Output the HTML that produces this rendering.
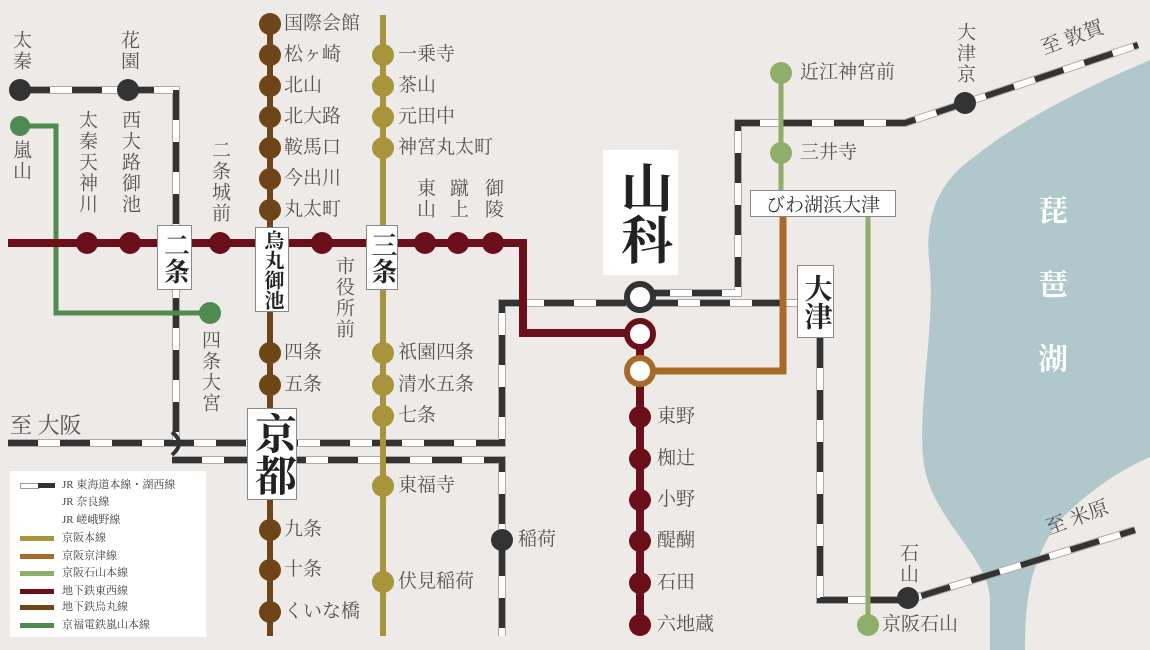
<!DOCTYPE html>
<html><head><meta charset="utf-8">
<style>
body{margin:0;}
#m{position:relative;width:1150px;height:650px;background:#eeeae7;overflow:hidden;font-family:"Liberation Serif","Noto Serif CJK SC",serif;color:#555;}
svg{position:absolute;left:0;top:0;}
.l{position:absolute;font-size:19px;line-height:20px;white-space:nowrap;}
.v{position:absolute;font-size:19px;line-height:20px;writing-mode:vertical-rl;letter-spacing:2px;}
.b{position:absolute;background:#fff;border:1px solid #888;box-sizing:border-box;color:#222;font-weight:bold;writing-mode:vertical-rl;display:flex;align-items:center;justify-content:center;letter-spacing:0;white-space:nowrap;}
.lg{position:absolute;font-size:11px;line-height:12px;color:#444;white-space:nowrap;}
.sw{position:absolute;width:34px;height:5px;}
</style></head><body><div id="m">
<svg width="1150" height="650">
<path d="M1150 60 C1080 90 1020 120 970 160 C930 190 925 230 930 270 C935 330 915 420 925 470 C935 520 990 560 990 600 L990 650 L1025 650 C1025 600 1030 560 1060 520 C1090 490 1120 470 1150 457 Z" fill="#b0c7cc"/>
<g fill="none" stroke-linejoin="miter">
<g stroke="#aaa" stroke-width="8">
<path d="M20 90 H176 V440 M8 443 H502 V303 H797 M172 460 H502 V636 M640 293 H738 V123 H905 L965 103 L1138 45 M820 338 V600 H908 L1135 530"/>
</g>
<g stroke="#fff" stroke-width="6">
<path d="M20 90 H176 V440 M8 443 H502 V303 H797 M172 460 H502 V636 M640 293 H738 V123 H905 L965 103 L1138 45 M820 338 V600 H908 L1135 530"/>
</g>
<g stroke="#333" stroke-width="6" stroke-dasharray="30 22">
<path d="M20 90 H176 V440 M8 443 H502 V303 H797 M172 460 H502 V636 M640 293 H738 V123 H905 L965 103 L1138 45 M820 338 V600 H908 L1135 530"/>
</g>
<path d="M172 432 Q186 443 172 455" stroke="#333" stroke-width="4"/>
<path d="M20 126 H56 V313 H210" stroke="#4f8a50" stroke-width="5"/>
<path d="M270 24 V636" stroke="#6e4518" stroke-width="6"/>
<path d="M383 15 V636" stroke="#a8943a" stroke-width="6"/>
<path d="M781 73 V195 M868 217 V625" stroke="#8eaf6a" stroke-width="5"/>
<path d="M640 371 H783 V208" stroke="#a86a2a" stroke-width="7"/>
<path d="M8 243 H523 V333 H640 V625" stroke="#6b0f1a" stroke-width="8"/>
</g>
<g fill="#6b0f1a"><circle cx="87" cy="243" r="11"/><circle cx="130" cy="243" r="11"/><circle cx="220" cy="243" r="11"/><circle cx="322" cy="243" r="11"/><circle cx="425" cy="243" r="11"/><circle cx="458" cy="243" r="11"/><circle cx="493" cy="243" r="11"/>
<circle cx="640" cy="417" r="11"/><circle cx="640" cy="459" r="11"/><circle cx="640" cy="500" r="11"/><circle cx="640" cy="541" r="11"/><circle cx="640" cy="583" r="11"/><circle cx="640" cy="625" r="11"/></g>
<g fill="#6e4518"><circle cx="270" cy="24" r="11"/><circle cx="270" cy="55" r="11"/><circle cx="270" cy="86" r="11"/><circle cx="270" cy="117" r="11"/><circle cx="270" cy="148" r="11"/><circle cx="270" cy="179" r="11"/><circle cx="270" cy="210" r="11"/><circle cx="270" cy="353" r="11"/><circle cx="270" cy="385" r="11"/><circle cx="270" cy="530" r="11"/><circle cx="270" cy="570" r="11"/><circle cx="270" cy="612" r="11"/></g>
<g fill="#a8943a"><circle cx="383" cy="55" r="11"/><circle cx="383" cy="86" r="11"/><circle cx="383" cy="117" r="11"/><circle cx="383" cy="148" r="11"/><circle cx="383" cy="353" r="11"/><circle cx="383" cy="385" r="11"/><circle cx="383" cy="416" r="11"/><circle cx="383" cy="486" r="11"/><circle cx="383" cy="582" r="11"/></g>
<g fill="#8eaf6a"><circle cx="781" cy="73" r="11"/><circle cx="781" cy="153" r="11"/><circle cx="868" cy="625" r="11"/></g>
<g fill="#4f8a50"><circle cx="20" cy="126" r="10"/><circle cx="210" cy="313" r="11"/></g>
<g fill="#333"><circle cx="20" cy="90" r="11"/><circle cx="128" cy="90" r="11"/><circle cx="502" cy="540" r="11"/><circle cx="965" cy="103" r="11"/><circle cx="908" cy="598" r="11"/></g>
<g fill="#fff" stroke-width="6"><circle cx="640" cy="297" r="13" stroke="#333"/><circle cx="640" cy="334" r="13" stroke="#6b0f1a"/><circle cx="640" cy="371" r="13" stroke="#a86a2a"/></g>
</svg>

<div class="l" style="left:284px;top:14px">国際会館</div>
<div class="l" style="left:284px;top:45px">松ヶ崎</div>
<div class="l" style="left:284px;top:76px">北山</div>
<div class="l" style="left:284px;top:107px">北大路</div>
<div class="l" style="left:284px;top:138px">鞍馬口</div>
<div class="l" style="left:284px;top:169px">今出川</div>
<div class="l" style="left:284px;top:200px">丸太町</div>
<div class="l" style="left:284px;top:343px">四条</div>
<div class="l" style="left:284px;top:375px">五条</div>
<div class="l" style="left:284px;top:520px">九条</div>
<div class="l" style="left:284px;top:560px">十条</div>
<div class="l" style="left:284px;top:602px">くいな橋</div>
<div class="l" style="left:398px;top:45px">一乗寺</div>
<div class="l" style="left:398px;top:76px">茶山</div>
<div class="l" style="left:398px;top:107px">元田中</div>
<div class="l" style="left:398px;top:138px">神宮丸太町</div>
<div class="l" style="left:398px;top:343px">祇園四条</div>
<div class="l" style="left:398px;top:375px">清水五条</div>
<div class="l" style="left:398px;top:406px">七条</div>
<div class="l" style="left:398px;top:476px">東福寺</div>
<div class="l" style="left:398px;top:572px">伏見稲荷</div>
<div class="l" style="left:657px;top:407px">東野</div>
<div class="l" style="left:657px;top:449px">椥辻</div>
<div class="l" style="left:657px;top:490px">小野</div>
<div class="l" style="left:657px;top:531px">醍醐</div>
<div class="l" style="left:657px;top:573px">石田</div>
<div class="l" style="left:657px;top:615px">六地蔵</div>
<div class="l" style="left:800px;top:63px">近江神宮前</div>
<div class="l" style="left:800px;top:143px">三井寺</div>
<div class="l" style="left:882px;top:615px">京阪石山</div>
<div class="l" style="left:518px;top:530px">稲荷</div>
<div class="l" style="left:10px;top:414px;font-size:22px;line-height:24px">至&nbsp;大阪</div>
<div class="l" style="left:1040px;top:28px;font-size:20px;transform:rotate(-20deg)">至&nbsp;敦賀</div>
<div class="l" style="left:1045px;top:508px;font-size:20px;transform:rotate(-20deg)">至&nbsp;米原</div>

<div class="v" style="left:10px;top:30px">太秦</div>
<div class="v" style="left:118px;top:30px">花園</div>
<div class="v" style="left:10px;top:140px">嵐山</div>
<div class="v" style="left:76px;top:110px">太秦天神川</div>
<div class="v" style="left:119px;top:110px">西大路御池</div>
<div class="v" style="left:209px;top:140px">二条城前</div>
<div class="v" style="left:333px;top:256px">市役所前</div>
<div class="v" style="left:199px;top:330px">四条大宮</div>
<div class="v" style="left:414px;top:178px">東山</div>
<div class="v" style="left:447px;top:178px">蹴上</div>
<div class="v" style="left:482px;top:178px">御陵</div>
<div class="v" style="left:954px;top:22px">大津京</div>
<div class="v" style="left:897px;top:543px">石山</div>
<div class="v" style="left:1032px;top:195px;color:#fff;font-size:30px;line-height:34px;letter-spacing:44px;font-weight:bold">琵琶湖</div>

<div class="b" style="left:157px;top:225px;width:35px;height:65px;font-size:26px;line-height:28px">二条</div>
<div class="b" style="left:255px;top:227px;width:34px;height:85px;font-size:20px;line-height:22px">烏丸御池</div>
<div class="b" style="left:366px;top:225px;width:32px;height:65px;font-size:26px;line-height:28px">三条</div>
<div class="b" style="left:797px;top:265px;width:37px;height:73px;font-size:28px;line-height:30px">大津</div>
<div class="b" style="left:247px;top:408px;width:50px;height:92px;font-size:42px;line-height:46px">京都</div>
<div class="b" style="left:603px;top:150px;width:75px;height:125px;font-size:52px;line-height:56px;border:none;color:#222">山科</div>
<div class="b" style="left:750px;top:190px;width:146px;height:27px;font-size:19px;writing-mode:horizontal-tb;font-weight:normal;color:#333">びわ湖浜大津</div>

<div style="position:absolute;left:10px;top:471px;width:196px;height:166px;background:#fff"></div>
<div class="sw" style="left:20px;top:483px;width:17px;background:#fff;border:1px solid #999;height:4px"></div>
<div class="sw" style="left:38px;top:483px;width:17px;background:#333"></div>
<div class="sw" style="left:20px;top:536px;background:#a8943a"></div>
<div class="sw" style="left:20px;top:554px;background:#a86a2a"></div>
<div class="sw" style="left:20px;top:571px;background:#8eaf6a"></div>
<div class="sw" style="left:20px;top:589px;background:#6b0f1a"></div>
<div class="sw" style="left:20px;top:605px;background:#6e4518"></div>
<div class="sw" style="left:20px;top:623px;background:#4f8a50"></div>
<div class="lg" style="left:62px;top:479px">JR 東海道本線・湖西線</div>
<div class="lg" style="left:62px;top:496px">JR 奈良線</div>
<div class="lg" style="left:62px;top:514px">JR 嵯峨野線</div>
<div class="lg" style="left:62px;top:532px">京阪本線</div>
<div class="lg" style="left:62px;top:550px">京阪京津線</div>
<div class="lg" style="left:62px;top:567px">京阪石山本線</div>
<div class="lg" style="left:62px;top:585px">地下鉄東西線</div>
<div class="lg" style="left:62px;top:601px">地下鉄烏丸線</div>
<div class="lg" style="left:62px;top:619px">京福電鉄嵐山本線</div>
</div></body></html>
